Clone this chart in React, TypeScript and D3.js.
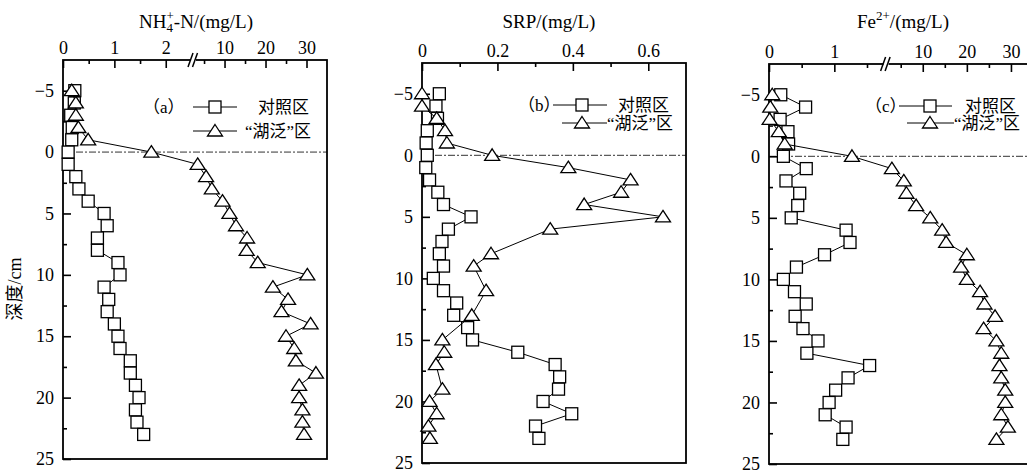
import React, { useEffect, useRef } from 'react';
import * as d3 from 'd3';

// depth (cm) of each sample, same for all full series
const depths = [-5, -4, -3, -2, -1, 0, 1, 2, 3, 4, 5, 6, 7, 8, 9, 10, 11, 12, 13, 14, 15, 16, 17, 18, 19, 20, 21, 22, 23];

// (a) NH4+-N, mg/L
const nhControl = [0.23, 0.22, 0.15, 0.18, 0.17, 0.1, 0.1, 0.25, 0.31, 0.49, 0.8, 0.86, 0.67, 0.67, 1.07, 1.11, 0.8, 0.89, 0.86, 1.0, 1.07, 1.11, 1.31, 1.31, 1.41, 1.48, 1.41, 1.44, 1.57];
const nhLake = [0.17, 0.25, 0.25, 0.3, 0.49, 1.72, 3.45, 5.5, 6.9, 9.5, 11.2, 12.8, 15.5, 15.4, 18.1, 30.2, 21.8, 25.5, 23.9, 31.0, 25.0, 27.0, 27.4, 32.3, 28.2, 28.2, 29.0, 29.0, 29.4];

// (b) SRP, mg/L
const srpControl = [0.046, 0.037, 0.041, 0.014, 0.011, 0.014, 0.01, 0.02, 0.042, 0.057, 0.13, 0.07, 0.053, 0.046, 0.057, 0.03, 0.057, 0.092, 0.084, 0.121, 0.134, 0.254, 0.353, 0.365, 0.362, 0.321, 0.397, 0.301, 0.31];
const srpLakeDepths = [-5, -4, -3, -2, -1, 0, 1, 2, 3, 4, 5, 6, 8, 9, 11, 13, 15, 16, 17, 19, 20, 21, 22, 23];
const srpLake = [0.0, 0.0, 0.039, 0.061, 0.066, 0.186, 0.388, 0.553, 0.528, 0.43, 0.639, 0.34, 0.183, 0.137, 0.17, 0.132, 0.054, 0.059, 0.037, 0.054, 0.02, 0.039, 0.017, 0.021];

// (c) Fe2+, mg/L
const feControl = [0.18, 0.56, 0.17, 0.29, 0.3, 0.22, 0.57, 0.26, 0.47, 0.44, 0.34, 1.18, 1.24, 0.85, 0.42, 0.22, 0.39, 0.57, 0.4, 0.52, 0.75, 0.58, 1.54, 1.21, 1.02, 0.92, 0.86, 1.18, 1.13];
const feLake = [0.05, 0.02, 0.01, 0.15, 0.24, 1.27, 3.0, 5.7, 6.3, 8.5, 11.7, 14.4, 15.3, 20.0, 18.7, 20.0, 23.0, 24.0, 26.4, 23.8, 26.7, 27.8, 27.4, 27.8, 28.7, 28.7, 27.8, 29.3, 26.7];

const depthTicks = [-5, 0, 5, 10, 15, 20, 25];
const depthMinor = [-2.5, 2.5, 7.5, 12.5, 17.5, 22.5];
const seriesNames = ['对照区', '“湖泛”区'];

const serif = "'Liberation Serif', 'Times New Roman', serif";
const mixed = "'Liberation Serif', 'Noto Sans CJK SC', serif";

const panels = [
  {
    tag: '（a）', left: 63, right: 327, top: 60, bottom: 459,
    xDomain: [0, 2.55, 35], xRange: [63, 194, 327], brk: 194,
    majors: [0, 1, 2, 10, 20, 30], minors: [0.5, 1.5, 5, 15, 25],
    fmt: (d: number) => String(d),
    control: nhControl, lakeDepths: depths, lake: nhLake,
    titleX: 196, title: 'nh',
    leg: { tagX: 143, y1: 107, y2: 131, l1: [193, 237], m1: 215, t1: 258, l2: [193, 237], m2: 215, t2: 245 }
  },
  {
    tag: '（b）', left: 422, right: 686, top: 63, bottom: 463,
    xDomain: [0, 0.7], xRange: [422, 686], brk: null,
    majors: [0, 0.2, 0.4, 0.6], minors: [0.1, 0.3, 0.5],
    fmt: (d: number) => (d === 0 ? '0' : d.toFixed(1)),
    control: srpControl, lakeDepths: srpLakeDepths, lake: srpLake,
    titleX: 549, title: 'srp',
    leg: { tagX: 518, y1: 105, y2: 123, l1: [553, 607], m1: 582, t1: 618, l2: [562, 607], m2: 582, t2: 607 }
  },
  {
    tag: '（c）', left: 769, right: 1033, top: 64, bottom: 464,
    xDomain: [0, 1.8, 35], xRange: [769, 886.6, 1033], brk: 886.6,
    majors: [0, 1, 10, 20, 30], minors: [0.5, 1.5, 5, 15, 25],
    fmt: (d: number) => String(d),
    control: feControl, lakeDepths: depths, lake: feLake,
    titleX: 903, title: 'fe',
    leg: { tagX: 865, y1: 106, y2: 123, l1: [899, 952], m1: 930, t1: 965, l2: [907, 954], m2: 930, t2: 954 }
  }
];

const square = (sel, cx, cy) =>
  sel.append('rect')
    .attr('x', cx - 6).attr('y', cy - 6)
    .attr('width', 12).attr('height', 12)
    .attr('fill', '#fff').attr('stroke', '#000').attr('stroke-width', 1.3);

const triangle = (sel, cx, cy) =>
  sel.append('path')
    .attr('d', `M${cx},${cy - 6.5}L${cx + 7.5},${cy + 5}L${cx - 7.5},${cy + 5}Z`)
    .attr('fill', '#fff').attr('stroke', '#000').attr('stroke-width', 1.3);

const styleAxis = (g) => {
  g.attr('font-family', null).attr('font-size', null);
  g.select('.domain').remove();
  g.selectAll('line').attr('stroke', '#000').attr('stroke-width', 1.6);
  g.selectAll('text')
    .style('font-family', serif)
    .style('font-size', '18px')
    .attr('fill', '#000');
};

const drawPanel = (svg, p) => {
  const x = d3.scaleLinear().domain(p.xDomain).range(p.xRange);
  const y = d3.scaleLinear().domain([-7.5, 25]).range([p.top, p.bottom]);
  const g = svg.append('g');

  // depth 0 reference line (dash-dot)
  g.append('line')
    .attr('x1', p.left).attr('x2', p.right)
    .attr('y1', y(0)).attr('y2', y(0))
    .attr('stroke', '#333').attr('stroke-width', 1)
    .attr('stroke-dasharray', '7,2,2,2');

  // frame
  g.append('rect')
    .attr('x', p.left).attr('y', p.top)
    .attr('width', p.right - p.left).attr('height', p.bottom - p.top)
    .attr('fill', 'none').attr('stroke', '#000').attr('stroke-width', 1.8);

  // top axis (ticks pointing inside)
  g.append('g')
    .attr('transform', `translate(0,${p.top})`)
    .call(d3.axisTop(x).tickValues(p.majors).tickSize(-8).tickPadding(6).tickFormat(p.fmt))
    .call(styleAxis);
  g.append('g')
    .attr('transform', `translate(0,${p.top})`)
    .call(d3.axisTop(x).tickValues(p.minors).tickSize(-4).tickFormat(() => ''))
    .call(styleAxis);

  // left axis
  g.append('g')
    .attr('transform', `translate(${p.left},0)`)
    .call(d3.axisLeft(y).tickValues(depthTicks).tickSize(-8).tickPadding(9)
      .tickFormat(d => (d < 0 ? '−' + Math.abs(d) : String(d))))
    .call(styleAxis);
  g.append('g')
    .attr('transform', `translate(${p.left},0)`)
    .call(d3.axisLeft(y).tickValues(depthMinor).tickSize(-4).tickFormat(() => ''))
    .call(styleAxis);

  // axis break marks
  if (p.brk) {
    g.append('rect')
      .attr('x', p.brk - 3).attr('y', p.top - 2)
      .attr('width', 5).attr('height', 4).attr('fill', '#fff');
    [-3, 1.5].forEach(o => {
      g.append('line')
        .attr('x1', p.brk + o - 3).attr('y1', p.top + 7)
        .attr('x2', p.brk + o + 2).attr('y2', p.top - 7)
        .attr('stroke', '#000').attr('stroke-width', 1.5);
    });
  }

  // title
  const t = g.append('text')
    .attr('x', p.titleX).attr('y', 28)
    .attr('text-anchor', 'middle')
    .style('font-family', serif).style('font-size', '19px').attr('fill', '#000');
  if (p.title === 'nh') {
    t.append('tspan').text('NH');
    t.append('tspan').style('font-size', '13px').attr('dy', 4).text('4');
    t.append('tspan').style('font-size', '13px').attr('dx', -6.5).attr('dy', -12).text('+');
    t.append('tspan').attr('dy', 8).text('-N/(mg/L)');
  } else if (p.title === 'fe') {
    t.append('tspan').text('Fe');
    t.append('tspan').style('font-size', '13px').attr('dy', -8).text('2+');
    t.append('tspan').attr('dy', 8).text('/(mg/L)');
  } else {
    t.text('SRP/(mg/L)');
  }

  // series lines
  const line = d3.line<[number, number]>().x(d => x(d[1])).y(d => y(d[0]));
  const ctrl = depths.map((d, i) => [d, p.control[i]] as [number, number]);
  const lake = p.lakeDepths.map((d, i) => [d, p.lake[i]] as [number, number]);

  g.append('path').datum(ctrl).attr('d', line)
    .attr('fill', 'none').attr('stroke', '#000').attr('stroke-width', 1);
  ctrl.forEach(d => square(g, x(d[1]), y(d[0])));

  g.append('path').datum(lake).attr('d', line)
    .attr('fill', 'none').attr('stroke', '#000').attr('stroke-width', 1);
  lake.forEach(d => triangle(g, x(d[1]), y(d[0])));

  // legend
  const L = p.leg;
  g.append('text')
    .attr('x', L.tagX).attr('y', L.y1).attr('dy', '0.35em')
    .style('font-family', mixed).style('font-size', '17px').attr('fill', '#000')
    .text(p.tag);
  g.append('line').attr('x1', L.l1[0]).attr('x2', L.l1[1]).attr('y1', L.y1).attr('y2', L.y1)
    .attr('stroke', '#000').attr('stroke-width', 1);
  square(g, L.m1, L.y1);
  g.append('text')
    .attr('x', L.t1).attr('y', L.y1).attr('dy', '0.35em')
    .style('font-family', mixed).style('font-size', '17px').attr('fill', '#000')
    .text(seriesNames[0]);
  g.append('line').attr('x1', L.l2[0]).attr('x2', L.l2[1]).attr('y1', L.y2).attr('y2', L.y2)
    .attr('stroke', '#000').attr('stroke-width', 1);
  triangle(g, L.m2, L.y2);
  g.append('text')
    .attr('x', L.t2).attr('y', L.y2).attr('dy', '0.35em')
    .style('font-family', mixed).style('font-size', '17px').attr('fill', '#000')
    .text(seriesNames[1]);
};

export default function App() {
  const svgRef = useRef<SVGSVGElement>(null);

  useEffect(() => {
    const svg = d3.select(svgRef.current);
    svg.selectAll('*').remove();

    panels.forEach(p => drawPanel(svg, p));

    // shared depth label
    svg.append('text')
      .attr('transform', 'translate(15,289) rotate(-90)')
      .attr('text-anchor', 'middle')
      .attr('dy', '0.35em')
      .style('font-family', mixed).style('font-size', '18px').attr('fill', '#000')
      .text('深度/cm');
  }, []);

  return (
    <svg
      ref={svgRef}
      width={1027}
      height={471}
      style={{ position: 'absolute', left: 0, top: 0, background: '#fff' }}
    />
  );
}
